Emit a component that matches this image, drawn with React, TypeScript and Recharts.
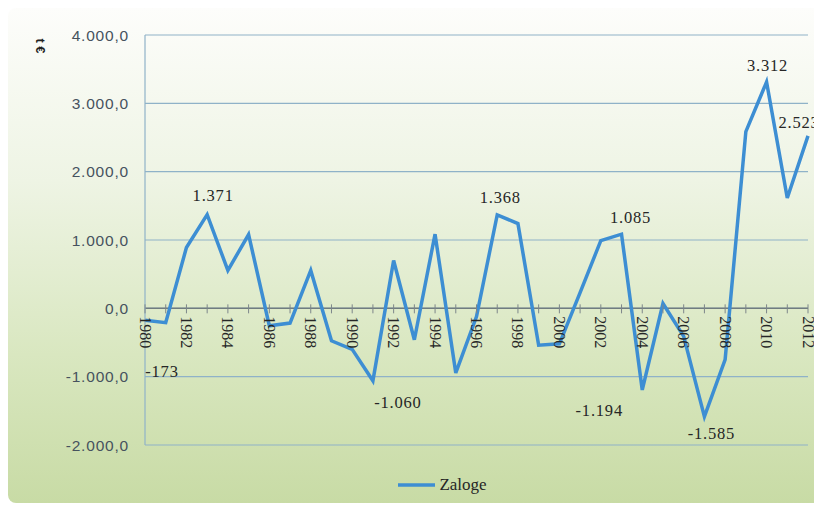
import { LineChart, Line, XAxis, YAxis, CartesianGrid, Legend, LabelList, ReferenceLine } from "recharts";

const years = [
  1980, 1981, 1982, 1983, 1984, 1985, 1986, 1987, 1988, 1989, 1990,
  1991, 1992, 1993, 1994, 1995, 1996, 1997, 1998, 1999, 2000, 2001,
  2002, 2003, 2004, 2005, 2006, 2007, 2008, 2009, 2010, 2011, 2012,
];
const zaloge = [
  -173, -210, 890, 1371, 555, 1080, -255, -215, 555, -475, -600,
  -1060, 700, -460, 1085, -945, -120, 1368, 1240, -540, -520, 230,
  990, 1085, -1194, 70, -410, -1585, -750, 2585, 3312, 1615, 2523,
];
const yTicks = [-2000, -1000, 0, 1000, 2000, 3000, 4000];
const seriesName = "Zaloge";
const unitLabel = "t €";

// value labels: where each one sits relative to its point
const labelOffset: Record<number, [number, number]> = {
  1980: [17, 51],
  1983: [6, -19],
  1991: [25, 22],
  1997: [3, -17],
  2003: [9, -17],
  2004: [-43, 21],
  2007: [7, 17],
  2010: [1, -17],
  2012: [-9, -13],
};

const data = years.map((year, i) => ({ year, zaloge: zaloge[i] }));

const W = 814;
const H = 495;
const TOP = 27;
const PLOT_H = 410;
const Y_MIN = -2000;
const Y_MAX = 4000;
const zeroY = TOP + (PLOT_H * Y_MAX) / (Y_MAX - Y_MIN);
const SERIF = "'Liberation Serif', 'Times New Roman', serif";

const thousands = (n: number) => {
  const s = String(Math.abs(Math.round(n))).replace(/\B(?=(\d{3})+(?!\d))/g, ".");
  return (n < 0 ? "-" : "") + s;
};
const yFmt = (n: number) => thousands(n) + ",0";

const XTick = (props: any) => {
  const { x, payload } = props;
  const yr = payload.value as number;
  return (
    <g>
      <line x1={x} x2={x} y1={zeroY - 4} y2={zeroY + 5} stroke="#7d868a" strokeWidth={1} />
      {yr % 2 === 0 && (
        <text
          transform={`translate(${x},${zeroY + 8}) rotate(90)`}
          textAnchor="start"
          dominantBaseline="central"
          fontFamily={SERIF}
          fontSize={16}
          fill="#262626"
        >
          {yr}
        </text>
      )}
    </g>
  );
};

const ValueLabel = (props: any) => {
  const { x, y, index } = props;
  const yr = years[index];
  const off = labelOffset[yr];
  if (!off) return null;
  return (
    <text
      x={x + off[0]}
      y={y + off[1]}
      textAnchor="middle"
      dominantBaseline="central"
      fontFamily={SERIF}
      fontSize={16.5}
      letterSpacing={0.8}
      fill="#262626"
    >
      {thousands(zaloge[index])}
    </text>
  );
};

const LegendContent = () => (
  <div style={{ height: 20, display: "flex", justifyContent: "center", alignItems: "center" }}>
    <svg width={40} height={20}>
      <line x1={2} x2={39} y1={10} y2={10} stroke="#3d8ed3" strokeWidth={3.5} />
    </svg>
    <span style={{ fontFamily: SERIF, fontSize: 17, color: "#262626", marginLeft: 3 }}>{seriesName}</span>
  </div>
);

export default function App() {
  return (
    <div
      style={{
        width: W,
        height: H,
        borderRadius: "8px 0 0 8px",
        background: "linear-gradient(180deg, #fdfdfb 0%, #eef4e4 35%, #d9e7c0 70%, #c8dba5 100%)",
        overflow: "hidden",
      }}
    >
      <LineChart width={W} height={H} data={data} margin={{ top: TOP, right: 14, left: 67, bottom: 37 }}>
        <CartesianGrid vertical={false} stroke="#8fb2c8" strokeWidth={1.2} />
        <XAxis
          dataKey="year"
          interval={0}
          height={1}
          axisLine={false}
          tickLine={false}
          tick={<XTick />}
        />
        <YAxis
          width={70}
          domain={[Y_MIN, Y_MAX]}
          ticks={yTicks}
          tickFormatter={yFmt}
          axisLine={{ stroke: "#8fb2c8", strokeWidth: 1.2 }}
          tickLine={false}
          tickSize={0}
          tickMargin={16}
          tick={{ fontFamily: "'Liberation Sans', sans-serif", fontSize: 15.5, fill: "#46525e", letterSpacing: 0.8 }}
          label={{
            content: () => (
              <text
                transform="translate(32,38) rotate(90)"
                textAnchor="middle"
                dominantBaseline="central"
                fontFamily="'Liberation Sans', sans-serif"
                fontWeight="bold"
                fontSize={13}
                fill="#222"
              >
                {unitLabel}
              </text>
            ),
          }}
        />
        <ReferenceLine y={0} stroke="#707c80" strokeWidth={1.5} />
        <Legend verticalAlign="bottom" wrapperStyle={{ bottom: 8 }} content={<LegendContent />} />
        <Line
          type="linear"
          dataKey="zaloge"
          name={seriesName}
          stroke="#3d8ed3"
          strokeWidth={3.5}
          dot={false}
          isAnimationActive={false}
        >
          <LabelList dataKey="zaloge" content={<ValueLabel />} />
        </Line>
      </LineChart>
    </div>
  );
}
